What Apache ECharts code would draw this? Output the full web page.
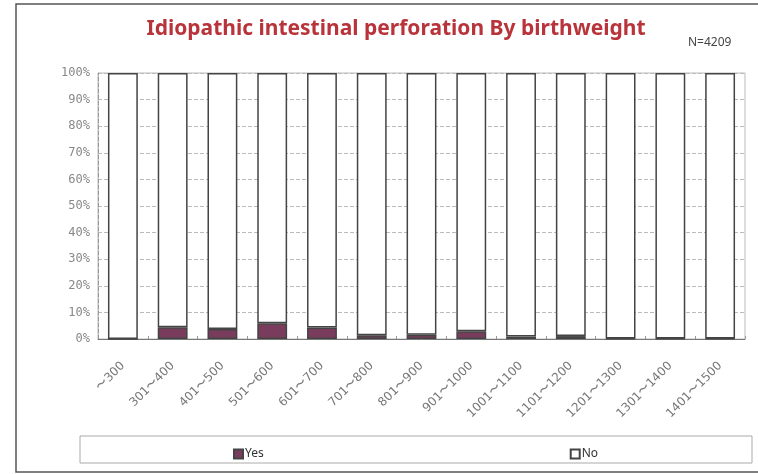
<!DOCTYPE html>
<html>
<head>
<meta charset="utf-8">
<script src="https://cdn.jsdelivr.net/npm/echarts@6/dist/echarts.min.js"></script>
<style>
  html, body { margin: 0; padding: 0; background: #fff; }
  #chart { width: 758px; height: 474px; }
</style>
</head>
<body>
<div id="chart"></div>
<script>
var categories = ['〜300', '301〜400', '401〜500', '501〜600', '601〜700', '701〜800', '801〜900',
  '901〜1000', '1001〜1100', '1101〜1200', '1201〜1300', '1301〜1400', '1401〜1500'];
var yesVals = [0, 4.4, 3.8, 5.9, 4.3, 1.4, 1.6, 2.9, 0.9, 1.1, 0.2, 0.2, 0.2];
var noVals = [100, 95.6, 96.2, 94.1, 95.7, 98.6, 98.4, 97.1, 99.1, 98.9, 99.8, 99.8, 99.8];
var yTicks = [0, 10, 20, 30, 40, 50, 60, 70, 80, 90, 100];

var chart = echarts.init(document.getElementById('chart'));
chart.setOption({
  animation: false,
  backgroundColor: '#fff',
  title: {
    text: 'Idiopathic intestinal perforation By birthweight',
    left: 391, top: 14, textAlign: 'center',
    textStyle: { color: '#b8333a', fontSize: 21, fontWeight: 'bold', fontFamily: 'Noto Sans' }
  },
  graphic: [
    { type: 'rect', shape: { x: 16, y: 4, width: 760, height: 468 }, style: { fill: 'none', stroke: '#555', lineWidth: 1.5 } },
    { type: 'rect', shape: { x: 80, y: 436, width: 672, height: 27 }, style: { fill: '#fff', stroke: '#aaa', lineWidth: 1 }, z: 0 },
    { type: 'text', left: 688, top: 37, style: { text: 'N=4209', fill: '#444', fontSize: 12, fontFamily: 'Noto Sans' } }
  ],
  legend: {
    left: 228, top: 443, itemWidth: 9, itemHeight: 9, itemGap: 306,
    icon: 'rect',
    textStyle: { color: '#333', fontSize: 12, fontFamily: 'Noto Sans', padding: [0, 0, 0, -3] },
    data: ['Yes', 'No'],
    z: 5
  },
  grid: { left: 98, right: 13, top: 73, bottom: 135, show: true, borderColor: '#bbb', borderWidth: 1 },
  xAxis: {
    type: 'category',
    data: categories,
    axisLine: { lineStyle: { color: '#777' } },
    axisTick: { show: true, inside: true, length: 3, lineStyle: { color: '#999' } },
    axisLabel: { rotate: 45, margin: 25, color: '#777', fontSize: 12, fontFamily: 'DejaVu Sans' }
  },
  yAxis: {
    type: 'value', min: 0, max: 100, interval: 10,
    axisLine: { show: true, lineStyle: { color: '#999', type: 'dashed' } },
    axisTick: { show: false },
    axisLabel: {
      color: '#888', fontSize: 12, fontFamily: 'DejaVu Sans Mono', margin: 8,
      formatter: function (v) { return yTicks.indexOf(v) >= 0 ? v + '%' : ''; }
    },
    splitLine: { lineStyle: { color: '#bbb', type: 'dashed' } }
  },
  series: [
    {
      name: 'Yes', type: 'bar', stack: 'all', barWidth: '60%',
      data: yesVals,
      itemStyle: { color: '#7a3c5c', borderColor: '#444', borderWidth: 1.5 }
    },
    {
      name: 'No', type: 'bar', stack: 'all', barWidth: '60%',
      data: noVals,
      itemStyle: { color: '#fff', borderColor: '#444', borderWidth: 1.5 }
    }
  ]
});
</script>
</body>
</html>
